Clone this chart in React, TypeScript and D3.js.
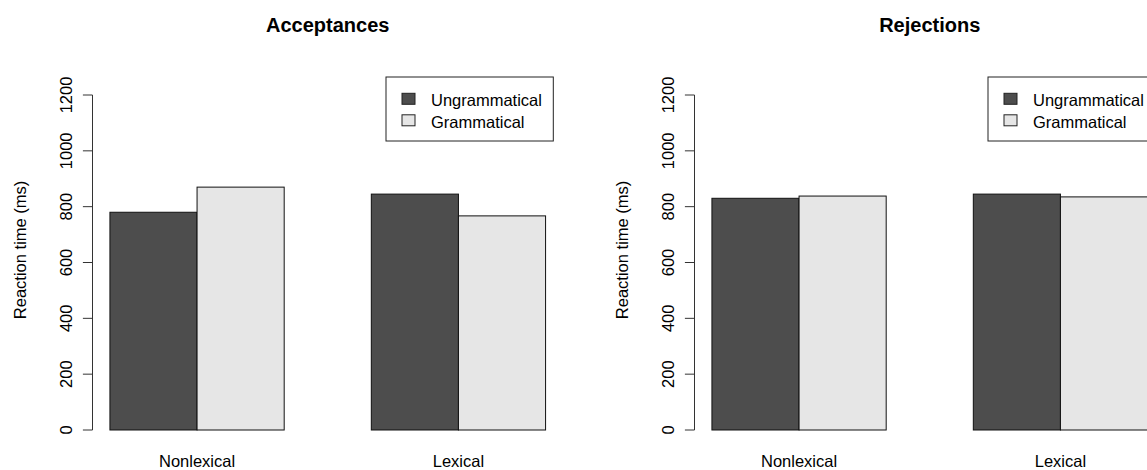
import React from "react";
import * as d3 from "d3";

const categories = ["Nonlexical", "Lexical"];
const seriesNames = ["Ungrammatical", "Grammatical"];
const acceptUngram = [780, 845];
const acceptGram = [870, 767];
const rejectUngram = [830, 845];
const rejectGram = [838, 835];
const yTicks = [0, 200, 400, 600, 800, 1000, 1200];
const panelTitles = ["Acceptances", "Rejections"];

const fills = ["#4d4d4d", "#e6e6e6"];
const FONT = "Arial, 'Liberation Sans', Helvetica, sans-serif";

function Panel({ offsetX, title, ungram, gram }: { offsetX: number; title: string; ungram: number[]; gram: number[] }) {
  const x = d3.scaleLinear().domain([0.8, 6.2]).range([92.5 + offsetX, 563 + offsetX]);
  const y = d3.scaleLinear().domain([0, 1200]).range([430, 95]);
  const series = [ungram, gram];
  const axisX = x(0.8);
  return (
    <g>
      <text x={(x(0.8) + x(6.2)) / 2} y={32} textAnchor="middle" fontFamily={FONT} fontWeight="bold" fontSize={20}>
        {title}
      </text>
      {categories.map((c, ci) =>
        series.map((s, si) => {
          const x0 = 1 + ci * 3 + si;
          return (
            <rect
              key={c + si}
              x={x(x0)}
              y={y(s[ci])}
              width={x(x0 + 1) - x(x0)}
              height={y(0) - y(s[ci])}
              fill={fills[si]}
              stroke="#111"
              strokeWidth={1}
            />
          );
        })
      )}
      {categories.map((c, ci) => (
        <text key={c} x={x(2 + ci * 3)} y={467} textAnchor="middle" fontFamily={FONT} fontSize={16.5}>
          {c}
        </text>
      ))}
      <line x1={axisX} x2={axisX} y1={y(0)} y2={y(1200)} stroke="#333" strokeWidth={1} />
      {yTicks.map((t) => (
        <g key={t}>
          <line x1={axisX - 9.6} x2={axisX} y1={y(t)} y2={y(t)} stroke="#333" strokeWidth={1} />
          <text
            transform={`translate(${offsetX + 71.5},${y(t)}) rotate(-90)`}
            textAnchor="middle"
            fontFamily={FONT}
            fontSize={16.5}
          >
            {t}
          </text>
        </g>
      ))}
      <text
        transform={`translate(${offsetX + 25.5},${y(645)}) rotate(-90)`}
        textAnchor="middle"
        fontFamily={FONT}
        fontSize={16.5}
      >
        Reaction time (ms)
      </text>
      <g>
        <rect x={386 + offsetX} y={77} width={167.3} height={64} fill="white" stroke="#222" strokeWidth={1} />
        {seriesNames.map((n, i) => (
          <g key={n}>
            <rect x={402 + offsetX} y={93.3 + i * 21.5} width={13} height={11} fill={fills[i]} stroke="#222" strokeWidth={1} />
            <text x={431 + offsetX} y={106 + i * 21.5} fontFamily={FONT} fontSize={16.5}>
              {n}
            </text>
          </g>
        ))}
      </g>
    </g>
  );
}

export default function App() {
  return (
    <svg
      width={1147}
      height={470}
      style={{ position: "absolute", left: 0, top: 0, background: "white" }}
    >
      <rect x={0} y={0} width={1147} height={470} fill="white" />
      <Panel offsetX={0} title={panelTitles[0]} ungram={acceptUngram} gram={acceptGram} />
      <Panel offsetX={602} title={panelTitles[1]} ungram={rejectUngram} gram={rejectGram} />
    </svg>
  );
}
